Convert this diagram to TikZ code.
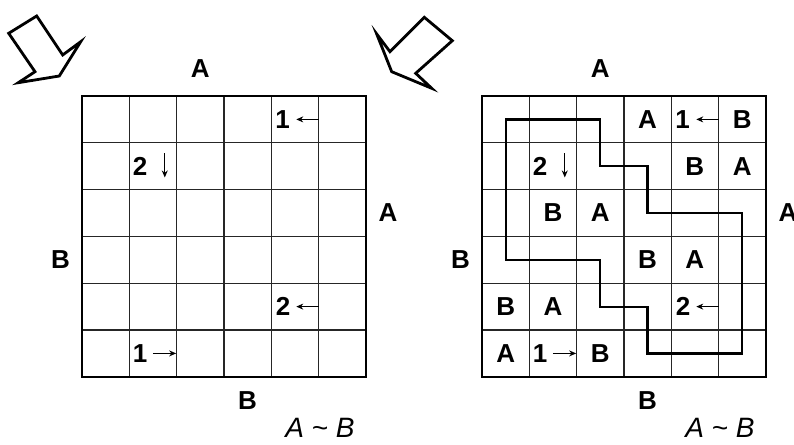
\documentclass[tikz,border=0pt]{standalone}
\usepackage{fontspec}
\setmainfont{Liberation Sans}
\usetikzlibrary{arrows.meta, positioning}
\tikzset{
  gridline/.style={draw=black!85, line width=1.2pt},
  frame/.style={draw=black, line width=2.6pt},
  letter/.style={font=\fontsize{26}{26}\selectfont\bfseries, inner sep=0pt},
  sidelabel/.style={font=\fontsize{26}{26}\selectfont\bfseries, inner sep=0pt},
  clue/.style={font=\fontsize{26}{26}\selectfont\bfseries, inner sep=0pt},
  cluearrow/.style={-{Stealth[length=7pt,width=6pt]}, line width=1.1pt},
  bigarrow/.style={draw=black, line width=2.8pt, line join=miter, fill=white},
  loopline/.style={draw=black, line width=2.2pt, line join=miter},
  relation/.style={font=\fontsize{28}{28}\selectfont\itshape, inner sep=0pt, anchor=base}
}

\begin{document}
\begin{tikzpicture}[x=1pt, y=-1pt]
  \useasboundingbox (0,0) rectangle (794,444);

  % hint arrows
  \draw[bigarrow] (8.7,33.3) -- (36.7,16) -- (62.7,55) -- (80.7,41.7)
    -- (59.3,76) -- (18.3,82.7) -- (35,71.7) -- cycle;
  \draw[bigarrow] (424.3,17.3) -- (452.3,40.7) -- (415.7,73.3) -- (431.7,88.3)
    -- (391.7,71.7) -- (376.7,34) -- (390,51.7) -- cycle;

  % puzzle
  \begin{scope}[shift={(82,96)}, x=47.3pt, y=-46.8pt, name prefix=p-]
    \foreach \i in {1,...,5} {
      \draw[gridline] (\i,0) -- (\i,6);
      \draw[gridline] (0,\i) -- (6,\i);
    }
    \draw[frame] (0,0) rectangle (6,6);

    \node[clue] (c15) at (4.24,0.5) {1};
    \draw[cluearrow] (5,0.5) -- (4.53,0.5);
    \node[clue] (c22) at (1.23,1.5) {2};
    \draw[cluearrow] (1.75,1.22) -- (1.75,1.74);
    \node[clue] (c55) at (4.25,4.5) {2};
    \draw[cluearrow] (5,4.5) -- (4.53,4.5);
    \node[clue] (c62) at (1.23,5.5) {1};
    \draw[cluearrow] (1.5,5.5) -- (1.99,5.5);

    \node[sidelabel] (top) at (2.5,-0.58) {A};
    \node[sidelabel] (right) at (6.47,2.5) {A};
    \node[sidelabel] (left) at (-0.455,3.5) {B};
    \node[sidelabel] (bottom) at (3.5,6.51) {B};
    \node[relation] (rel) at (5.03,7.29) {A \textasciitilde{} B};
  \end{scope}

  % solution
  \begin{scope}[shift={(482,96)}, x=47.3pt, y=-46.8pt, name prefix=s-]
    \foreach \i in {1,...,5} {
      \draw[gridline] (\i,0) -- (\i,6);
      \draw[gridline] (0,\i) -- (6,\i);
    }
    \draw[frame] (0,0) rectangle (6,6);

    \node[clue] (c15) at (4.24,0.5) {1};
    \draw[cluearrow] (5,0.5) -- (4.53,0.5);
    \node[clue] (c22) at (1.23,1.5) {2};
    \draw[cluearrow] (1.75,1.22) -- (1.75,1.74);
    \node[clue] (c55) at (4.25,4.5) {2};
    \draw[cluearrow] (5,4.5) -- (4.53,4.5);
    \node[clue] (c62) at (1.23,5.5) {1};
    \draw[cluearrow] (1.5,5.5) -- (1.99,5.5);

    \foreach \r/\c/\t in {1/4/A, 1/6/B, 2/5/B, 2/6/A, 3/2/B, 3/3/A,
                          4/4/B, 4/5/A, 5/1/B, 5/2/A, 6/1/A, 6/3/B}
      \node[letter] (l\r\c) at (\c-0.5,\r-0.5) {\t};

    \draw[loopline] (0.5,0.5) -- (2.5,0.5) -- (2.5,1.5) -- (3.5,1.5)
      -- (3.5,2.5) -- (5.5,2.5) -- (5.5,5.5) -- (3.5,5.5) -- (3.5,4.5)
      -- (2.5,4.5) -- (2.5,3.5) -- (0.5,3.5) -- cycle;

    \node[sidelabel] (top) at (2.5,-0.58) {A};
    \node[sidelabel] (right) at (6.47,2.5) {A};
    \node[sidelabel] (left) at (-0.455,3.5) {B};
    \node[sidelabel] (bottom) at (3.5,6.51) {B};
    \node[relation] (rel) at (5.03,7.29) {A \textasciitilde{} B};
  \end{scope}
\end{tikzpicture}
\end{document}
